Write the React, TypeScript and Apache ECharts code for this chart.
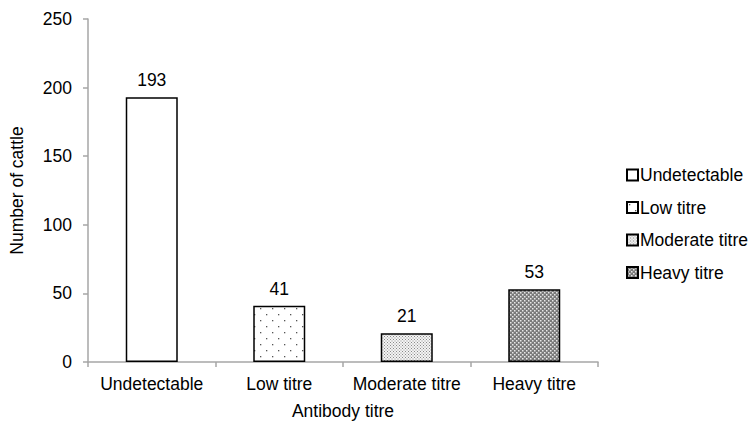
import React, { useEffect, useRef } from "react";
import * as echarts from "echarts";

const categories = ["Undetectable", "Low titre", "Moderate titre", "Heavy titre"];
const values = [193, 41, 21, 53];
const yTicks = [0, 50, 100, 150, 200, 250];

function makePattern(kind: string): any {
  const c = document.createElement("canvas");
  const ctx = c.getContext("2d")!;
  if (kind === "none") {
    return "#ffffff";
  }
  if (kind === "low") {
    c.width = 12;
    c.height = 12;
    ctx.fillStyle = "#fff";
    ctx.fillRect(0, 0, 12, 12);
    ctx.fillStyle = "#555";
    ctx.fillRect(2, 2, 1.3, 1.3);
    ctx.fillRect(8, 8, 1.3, 1.3);
  } else if (kind === "moderate") {
    c.width = 3;
    c.height = 3;
    ctx.fillStyle = "#f4f4f4";
    ctx.fillRect(0, 0, 3, 3);
    ctx.fillStyle = "#8a8a8a";
    ctx.fillRect(0, 0, 1, 1);
    ctx.fillRect(1.5, 1.5, 1, 1);
  } else {
    c.width = 4;
    c.height = 4;
    ctx.fillStyle = "#7a7a7a";
    ctx.fillRect(0, 0, 4, 4);
    ctx.fillStyle = "#e8e8e8";
    ctx.fillRect(0, 0, 1.5, 1.5);
    ctx.fillRect(2, 2, 1.5, 1.5);
  }
  return { image: c.toDataURL(), repeat: "repeat" };
}

export default function App() {
  const ref = useRef<HTMLDivElement>(null);
  useEffect(() => {
    document.body.style.margin = "0";
    const chart = echarts.init(ref.current!, undefined, { renderer: "svg" });
    const kinds = ["none", "low", "moderate", "heavy"];
    const font = "'Liberation Sans', Arial, sans-serif";
    const fs = 17.5;
    const series = categories.map((name, i) => ({
      name,
      type: "bar",
      stack: "all",
      barWidth: 52,
      data: categories.map((_, j) => (j === i ? values[j] : "-")),
      itemStyle: {
        color: makePattern(kinds[i]),
        borderColor: "#000",
        borderWidth: 1.5,
      },
      label: {
        show: true,
        position: "top",
        distance: 8,
        color: "#000",
        fontSize: fs,
        fontFamily: font,
      },
    }));
    chart.setOption({
      animation: false,
      backgroundColor: "#fff",
      textStyle: { fontFamily: font },
      grid: { left: 79, right: 157, top: 19, bottom: 59, containLabel: false },
      legend: {
        orient: "vertical",
        left: 626,
        top: 165,
        padding: 0,
        itemWidth: 11,
        itemHeight: 11,
        itemGap: 12.5,
        icon: "rect",
        data: categories,
        textStyle: { fontSize: fs, color: "#000", lineHeight: 20, padding: [0, 0, 0, -3], fontFamily: font },
      },
      xAxis: {
        type: "category",
        data: categories,
        name: "Antibody titre",
        nameLocation: "middle",
        nameGap: 40,
        nameTextStyle: { fontSize: fs, color: "#000", fontFamily: font },
        axisLine: { lineStyle: { color: "#a6a6a6", width: 1.5 } },
        axisTick: { show: true, length: 5, interval: 0, alignWithLabel: false, lineStyle: { color: "#a6a6a6", width: 1.5 } },
        axisLabel: { fontSize: fs, color: "#000", margin: 13, interval: 0, hideOverlap: false, fontFamily: font },
      },
      yAxis: {
        type: "value",
        min: yTicks[0],
        max: yTicks[yTicks.length - 1],
        interval: 50,
        name: "Number of cattle",
        nameLocation: "middle",
        nameGap: 62,
        nameTextStyle: { fontSize: fs, color: "#000", fontFamily: font },
        axisLine: { show: true, lineStyle: { color: "#a6a6a6", width: 1.5 } },
        axisTick: { show: true, length: 5, lineStyle: { color: "#a6a6a6", width: 1.5 } },
        splitLine: { show: false },
        axisLabel: { fontSize: fs, color: "#000", margin: 16, fontFamily: font },
      },
      series,
    });
    return () => chart.dispose();
  }, []);
  return <div ref={ref} style={{ width: 755, height: 425, position: "absolute", left: 0, top: 0 }} />;
}
